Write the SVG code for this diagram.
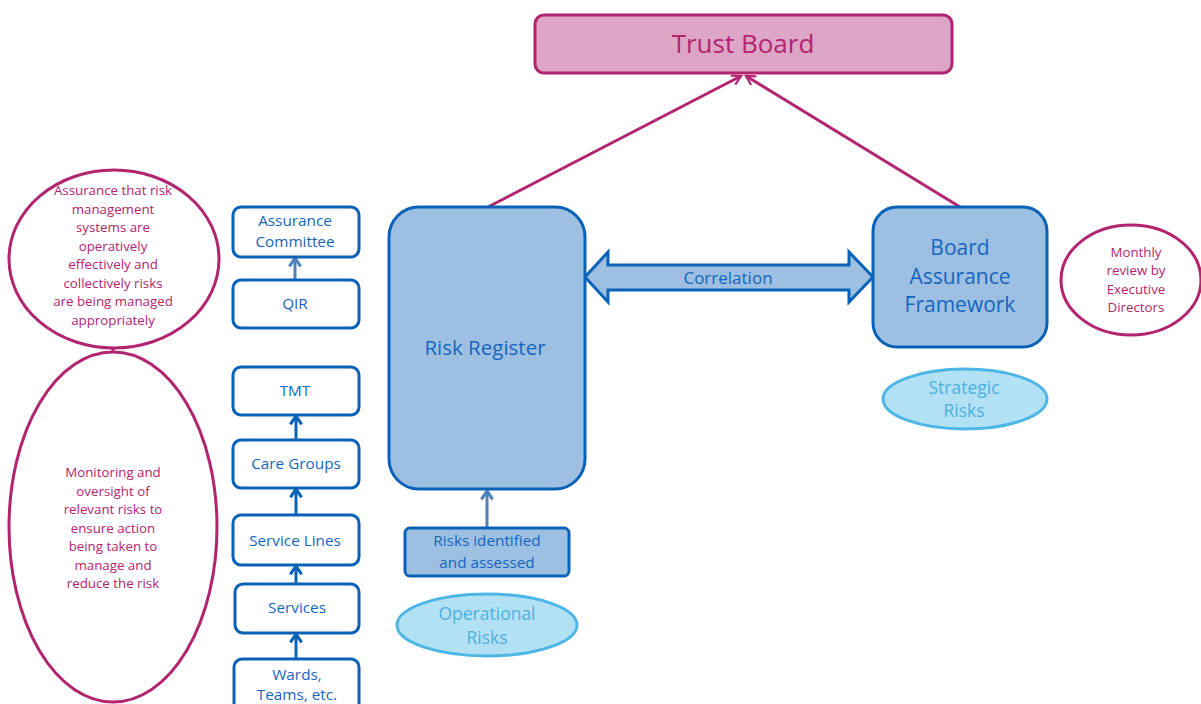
<svg xmlns="http://www.w3.org/2000/svg" width="1201" height="704" viewBox="0 0 1201 704">
<defs>
<style>
text{font-family:"Open Sans","Liberation Sans",sans-serif;text-anchor:middle}
.mg{fill:#b2246f}
.bl{fill:#1565c0}
.lb{fill:#4cb0e0}
.box{fill:#fff;stroke:#0a62b8;stroke-width:3}
.bigbox{fill:#9dc0e2;stroke:#0a62b8;stroke-width:3}
.oval{fill:#fff;stroke:#b2246f;stroke-width:3}
.risk{fill:#b3e1f4;stroke:#4db6e6;stroke-width:3}
.s13{font-size:13.3px}
.s14{font-size:15.3px}
</style>
<marker id="mh" viewBox="0 0 12 12" refX="10" refY="6" markerWidth="12" markerHeight="12" markerUnits="userSpaceOnUse" orient="auto">
<path d="M1,1 L10,6 L1,11" fill="none" stroke="#b2246f" stroke-width="2.2"/>
</marker>
<marker id="bh" viewBox="0 0 10 10" refX="8" refY="5" markerWidth="14" markerHeight="14" markerUnits="userSpaceOnUse" orient="auto">
<path d="M2,1 L8,5 L2,9" fill="none" stroke="#0a62b8" stroke-width="2.2"/>
</marker>
<marker id="gh" viewBox="0 0 10 10" refX="8" refY="5" markerWidth="14" markerHeight="14" markerUnits="userSpaceOnUse" orient="auto">
<path d="M2,1 L8,5 L2,9" fill="none" stroke="#4f81bd" stroke-width="2.2"/>
</marker>
<marker id="ph" viewBox="0 0 10 10" refX="8" refY="5" markerWidth="14" markerHeight="14" markerUnits="userSpaceOnUse" orient="auto-start-reverse">
<path d="M1,1 L9,5 L1,9 Z" fill="#b2246f"/>
</marker>
</defs>

<g id="connectors">
<line x1="488" y1="207" x2="741" y2="76" stroke="#b2246f" stroke-width="3" marker-end="url(#mh)"/>
<line x1="960" y1="207" x2="746" y2="76" stroke="#b2246f" stroke-width="3" marker-end="url(#mh)"/>
<path d="M585,277 L608,252 L608,265 L849,265 L849,252 L873,277 L849,302 L849,290 L608,290 L608,302 Z" fill="#9dc0e2" stroke="#0a62b8" stroke-width="3" stroke-linejoin="miter"/>
<text x="728" y="284" class="bl" style="font-size:17px">Correlation</text>
<line x1="487" y1="528" x2="487" y2="491" stroke="#4f81bd" stroke-width="3" marker-end="url(#gh)"/>
<line x1="295" y1="280" x2="295" y2="258" stroke="#4f81bd" stroke-width="3" marker-end="url(#gh)"/>
<line x1="296" y1="440" x2="296" y2="416" stroke="#0a62b8" stroke-width="3" marker-end="url(#bh)"/>
<line x1="296" y1="515" x2="296" y2="489" stroke="#0a62b8" stroke-width="3" marker-end="url(#bh)"/>
<line x1="296" y1="584" x2="296" y2="566" stroke="#0a62b8" stroke-width="3" marker-end="url(#bh)"/>
<line x1="296" y1="659" x2="296" y2="634" stroke="#0a62b8" stroke-width="3" marker-end="url(#bh)"/>
<line x1="113" y1="333" x2="113" y2="371" stroke="#b2246f" stroke-width="3" marker-start="url(#ph)" marker-end="url(#ph)"/>
</g>

<g id="trust-board">
<rect x="535" y="15" width="417" height="58" rx="9" fill="#dea6c6" stroke="#b2246f" stroke-width="3"/>
<text x="743" y="53" class="mg" style="font-size:26px">Trust Board</text>
</g>

<g id="risk-register">
<rect x="389" y="207" width="196" height="282" rx="30" class="bigbox"/>
<text x="485" y="355" class="bl" style="font-size:20.5px">Risk Register</text>
</g>

<g id="board-assurance-framework">
<rect x="873" y="207" width="174" height="140" rx="24" class="bigbox"/>
<text x="960" y="255" class="bl" style="font-size:21px">Board</text>
<text x="960" y="284" class="bl" style="font-size:21px">Assurance</text>
<text x="960" y="312" class="bl" style="font-size:21px">Framework</text>
</g>

<g id="monthly-review">
<ellipse cx="1131" cy="280" rx="70" ry="55" class="oval"/>
<text x="1136" y="257" class="mg s13">Monthly</text>
<text x="1136" y="275" class="mg s13">review by</text>
<text x="1136" y="294" class="mg s13">Executive</text>
<text x="1136" y="312" class="mg s13">Directors</text>
</g>

<g id="strategic-risks">
<ellipse cx="965" cy="399" rx="82" ry="30" class="risk"/>
<text x="964" y="394" class="lb" style="font-size:17.5px">Strategic</text>
<text x="964" y="417" class="lb" style="font-size:17.5px">Risks</text>
</g>

<g id="risks-identified">
<rect x="405" y="528" width="164" height="48" rx="5" class="bigbox"/>
<text x="487" y="546" class="bl s14">Risks identified</text>
<text x="487" y="568" class="bl s14">and assessed</text>
</g>

<g id="operational-risks">
<ellipse cx="487" cy="625" rx="90" ry="31" class="risk"/>
<text x="487" y="620" class="lb" style="font-size:17.5px">Operational</text>
<text x="487" y="644" class="lb" style="font-size:17.5px">Risks</text>
</g>

<g id="assurance-committee">
<rect x="233" y="207" width="126" height="50" rx="8" class="box"/>
<text x="295" y="226" class="bl s14">Assurance</text>
<text x="295" y="247" class="bl s14">Committee</text>
</g>
<g id="qir">
<rect x="233" y="280" width="126" height="48" rx="8" class="box"/>
<text x="295" y="309" class="bl s14">QIR</text>
</g>
<g id="tmt">
<rect x="233" y="367" width="126" height="48" rx="8" class="box"/>
<text x="295" y="396" class="bl s14">TMT</text>
</g>
<g id="care-groups">
<rect x="233" y="440" width="126" height="48" rx="8" class="box"/>
<text x="296" y="469" class="bl s14">Care Groups</text>
</g>
<g id="service-lines">
<rect x="233" y="515" width="126" height="50" rx="8" class="box"/>
<text x="295" y="546" class="bl s14">Service Lines</text>
</g>
<g id="services">
<rect x="235" y="584" width="124" height="49" rx="8" class="box"/>
<text x="297" y="613" class="bl s14">Services</text>
</g>
<g id="wards-teams">
<rect x="234" y="659" width="125" height="55" rx="8" class="box"/>
<text x="297" y="680" class="bl s14">Wards,</text>
<text x="297" y="700" class="bl s14">Teams, etc.</text>
</g>

<g id="assurance-oval">
<ellipse cx="114" cy="259" rx="105" ry="89" class="oval"/>
<text x="113" y="195" class="mg s13">Assurance that risk</text>
<text x="113" y="214" class="mg s13">management</text>
<text x="113" y="232" class="mg s13">systems are</text>
<text x="113" y="251" class="mg s13">operatively</text>
<text x="113" y="269" class="mg s13">effectively and</text>
<text x="113" y="288" class="mg s13">collectively risks</text>
<text x="113" y="306" class="mg s13">are being managed</text>
<text x="113" y="325" class="mg s13">appropriately</text>
</g>

<g id="monitoring-oval">
<ellipse cx="113" cy="527" rx="104" ry="175" class="oval"/>
<text x="113" y="477" class="mg s13">Monitoring and</text>
<text x="113" y="496" class="mg s13">oversight of</text>
<text x="113" y="514" class="mg s13">relevant risks to</text>
<text x="113" y="533" class="mg s13">ensure action</text>
<text x="113" y="551" class="mg s13">being taken to</text>
<text x="113" y="570" class="mg s13">manage and</text>
<text x="113" y="588" class="mg s13">reduce the risk</text>
</g>
</svg>
